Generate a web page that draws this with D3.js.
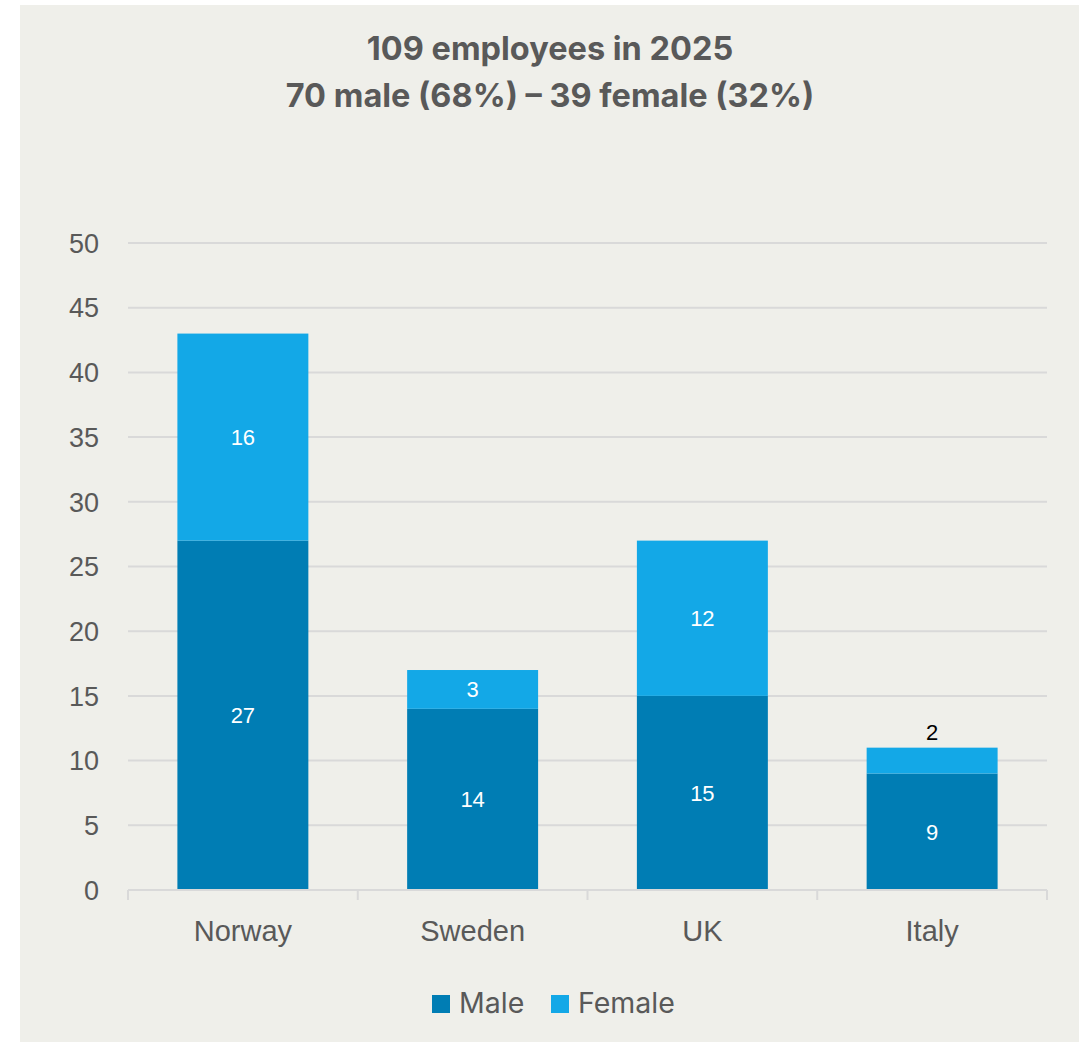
<!DOCTYPE html>
<html>
<head>
<meta charset="utf-8">
<script src="https://cdn.jsdelivr.net/npm/d3@7"></script>
<style>
  body { margin: 0; background: #fff; }
  svg { display: block; }
</style>
</head>
<body>
<div id="chart"></div>
<script>
const countries = ['Norway', 'Sweden', 'UK', 'Italy']
const male = [27, 14, 15, 9]
const female = [16, 3, 12, 2]
const yTicks = [0, 5, 10, 15, 20, 25, 30, 35, 40, 45, 50]
const titleLines = ['109 employees in 2025', '70 male (68%) \u2013 39 female (32%)']
const seriesNames = ['Male', 'Female']
const seriesColors = ['#007DB4', '#13A8E7']

const W = 1081, H = 1042
const margin = { left: 128, right: 34, top: 243, bottom: 152 }

const svg = d3.select('#chart').append('svg')
  .attr('width', W).attr('height', H)

svg.append('rect')
  .attr('x', 20).attr('y', 5)
  .attr('width', 1059).attr('height', 1037)
  .attr('fill', '#EFEFEA')

const x = d3.scaleBand()
  .domain(countries)
  .range([margin.left, W - margin.right])
  .paddingInner(0.43)
  .paddingOuter(0.215)

const y = d3.scaleLinear()
  .domain([0, 50])
  .range([H - margin.bottom, margin.top])

// gridlines
svg.append('g')
  .selectAll('line')
  .data(yTicks.filter(d => d > 0))
  .enter()
  .append('line')
  .attr('x1', margin.left).attr('x2', W - margin.right)
  .attr('y1', d => y(d)).attr('y2', d => y(d))
  .attr('stroke', '#D9D9D9').attr('stroke-width', 2)

// y tick labels
svg.append('g')
  .selectAll('text')
  .data(yTicks)
  .enter()
  .append('text')
  .attr('x', 99)
  .attr('y', d => y(d))
  .attr('dy', '0.36em')
  .attr('text-anchor', 'end')
  .attr('font-family', 'Liberation Sans, Arial, sans-serif')
  .attr('font-size', 27)
  .attr('fill', '#595959')
  .text(d => d)

const stacked = d3.stack().keys([0, 1]).value((d, k) => d[k])(
  countries.map((c, i) => Object.assign([male[i], female[i]], { country: c }))
)

const bars = svg.append('g')
stacked.forEach((layer, k) => {
  bars.selectAll('rect.s' + k)
    .data(layer)
    .enter()
    .append('rect')
    .attr('class', 's' + k)
    .attr('x', d => x(d.data.country))
    .attr('width', x.bandwidth())
    .attr('y', d => y(d[1]))
    .attr('height', d => y(d[0]) - y(d[1]))
    .attr('fill', seriesColors[k])
})

// data labels
stacked.forEach((layer, k) => {
  bars.selectAll('text.l' + k)
    .data(layer)
    .enter()
    .append('text')
    .attr('x', d => x(d.data.country) + x.bandwidth() / 2)
    .attr('y', d => {
      const v = d[1] - d[0]
      if (k === 1 && v < 3) return y(d[1]) - 16
      return y((d[0] + d[1]) / 2)
    })
    .attr('dy', '0.36em')
    .attr('text-anchor', 'middle')
    .attr('font-family', 'Liberation Sans, Arial, sans-serif')
    .attr('font-size', 22)
    .attr('fill', d => (k === 1 && d[1] - d[0] < 3) ? '#000' : '#fff')
    .text(d => d[1] - d[0])
})

// x axis line and ticks
const axisY = y(0)
svg.append('line')
  .attr('x1', margin.left).attr('x2', W - margin.right)
  .attr('y1', axisY).attr('y2', axisY)
  .attr('stroke', '#D9D9D9').attr('stroke-width', 2)

const step = x.step()
const edges = countries.map(c => x(c) - (step - x.bandwidth()) / 2)
edges.push(W - margin.right)
svg.append('g')
  .selectAll('line')
  .data(edges)
  .enter()
  .append('line')
  .attr('x1', d => d).attr('x2', d => d)
  .attr('y1', axisY).attr('y2', axisY + 10)
  .attr('stroke', '#D9D9D9').attr('stroke-width', 2)

svg.append('g')
  .selectAll('text')
  .data(countries)
  .enter()
  .append('text')
  .attr('x', d => x(d) + x.bandwidth() / 2)
  .attr('y', 941)
  .attr('text-anchor', 'middle')
  .attr('font-family', 'Liberation Sans, Arial, sans-serif')
  .attr('font-size', 29)
  .attr('fill', '#595959')
  .text(d => d)

// title
svg.append('g')
  .selectAll('text')
  .data(titleLines)
  .enter()
  .append('text')
  .attr('x', 550)
  .attr('y', (d, i) => 60 + i * 47)
  .attr('text-anchor', 'middle')
  .attr('font-family', 'Inter, Open Sans, sans-serif')
  .attr('font-weight', 'bold')
  .attr('font-size', 32.5)
  .attr('fill', '#595959')
  .text(d => d)

// legend
const legend = svg.append('g')
const legX = [432, 551]
seriesNames.forEach((name, i) => {
  legend.append('rect')
    .attr('x', legX[i]).attr('y', 995)
    .attr('width', 18).attr('height', 18)
    .attr('fill', seriesColors[i])
  legend.append('text')
    .attr('x', legX[i] + 27).attr('y', 1013)
    .attr('font-family', 'Inter, Open Sans, sans-serif')
    .attr('font-size', 28.5)
    .attr('fill', '#595959')
    .text(name)
})
</script>
</body>
</html>
